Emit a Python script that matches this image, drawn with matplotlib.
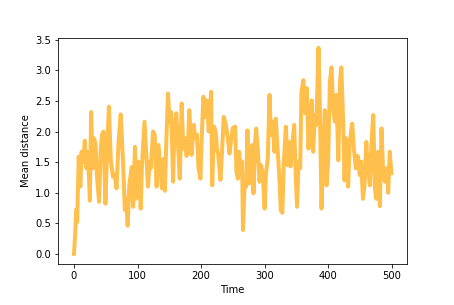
import matplotlib
matplotlib.use("Agg")
import matplotlib.pyplot as plt

# values (time step, mean distance)
time = [0, 2, 3.5, 5, 7.5, 10, 12, 14.5, 17, 19.5, 22, 25, 27, 29.5, 31.5, 34, 36, 39.5,
        42, 44, 46.5, 49.5, 52, 55, 58, 61.5, 64, 67, 70, 73.5, 77, 80, 82, 84.5, 87, 91,
        93, 96, 98, 101, 103, 105, 107, 111, 113.5, 116.5, 119, 121, 124.5, 127, 130, 133,
        136, 138.5, 141, 143, 145, 148, 150.5, 153, 156, 158, 161, 163.5, 166.5, 169.5,
        172, 174.5, 177, 179, 181.5, 185, 188.5, 190.5, 193.5, 196, 199, 201, 203.7, 207,
        209.5, 212, 214, 215.8, 217.5, 220.5, 223, 225, 227, 230.5, 233, 235.7, 239, 242,
        244.7, 247, 250, 253.6, 255.7, 258, 260, 262, 264.5, 266, 268.5, 271, 273, 275.6,
        278, 280.5, 282.5, 285, 286.7, 289.5, 292, 294.5, 297, 300, 302, 305, 307.7, 310,
        313, 315.5, 317.6, 320, 323, 325.5, 328, 330, 333.5, 336, 338.6, 341, 344, 346.5,
        349, 351, 353.5, 356, 358, 361, 364, 366.5, 369, 372, 374.3, 376.5, 379, 381.5,
        384.8, 387, 389.6, 392, 394.8, 397.5, 400, 402.7, 405.3, 408, 410.6, 413, 416,
        418.6, 420.8, 423.5, 425.8, 428, 431.5, 434, 437.8, 440.5, 443.6, 446.5, 449.7,
        452, 454.8, 457.3, 460, 462.6, 465.7, 468.9, 471, 473.5, 476, 478.7, 481.4, 484,
        486.7, 489.4, 492, 494.5, 497, 499.5]
mean_distance = [0.0, 0.35, 0.72, 0.52, 1.59, 1.10, 1.67, 1.5, 1.85, 1.40, 1.67, 0.87, 2.32,
                 1.40, 1.89, 1.80, 1.29, 0.85, 1.67, 1.95, 2.00, 0.82, 1.67, 2.41, 1.51, 1.26,
                 1.30, 1.07, 1.80, 2.28, 1.55, 0.72, 0.90, 0.46, 1.12, 1.42, 0.77, 1.75, 0.90,
                 1.51, 1.40, 0.74, 1.45, 2.16, 1.67, 1.10, 1.51, 1.40, 2.00, 1.95, 1.10, 1.78,
                 1.40, 1.07, 1.55, 1.03, 1.73, 2.62, 2.16, 2.32, 1.18, 2.05, 2.30, 1.83, 1.23,
                 2.46, 1.72, 1.89, 1.60, 1.67, 2.35, 1.62, 2.11, 1.89, 1.95, 1.40, 1.23, 1.89,
                 2.57, 2.24, 2.51, 2.00, 2.27, 2.65, 1.12, 2.08, 2.00, 1.72, 1.62, 1.21, 1.67,
                 2.24, 2.11, 1.90, 1.64, 1.83, 2.06, 2.08, 1.34, 1.23, 1.67, 1.29, 1.51, 0.39,
                 1.12, 1.10, 2.02, 1.15, 1.72, 1.78, 0.99, 1.83, 2.05, 1.67, 1.18, 1.45, 1.32,
                 0.74, 1.29, 1.56, 2.60, 1.94, 2.16, 1.67, 2.21, 1.78, 1.29, 0.71, 0.67, 1.45,
                 2.08, 1.45, 1.83, 1.43, 1.83, 2.11, 1.29, 0.77, 1.51, 1.40, 2.65, 2.84, 2.30,
                 2.71, 1.72, 2.21, 2.51, 1.67, 2.27, 2.11, 3.37, 2.35, 0.74, 1.67, 2.35, 1.12,
                 1.51, 2.81, 3.05, 2.35, 2.16, 2.60, 1.53, 2.81, 3.05, 2.20, 1.20, 1.89, 1.10,
                 1.83, 2.13, 1.72, 1.40, 1.60, 1.29, 1.51, 0.90, 1.12, 1.83, 1.40, 1.12, 1.95,
                 2.27, 1.07, 0.90, 1.67, 0.78, 2.05, 1.29, 1.18, 1.40, 1.00, 1.67, 1.32]

fig = plt.figure(figsize=(454 / 72, 305 / 72), dpi=72)
ax = fig.add_axes([0.128, 0.134, 0.769, 0.743])

ax.plot(time, mean_distance, color='orange', alpha=0.7, linewidth=4)

ax.set_xlabel("Time")
ax.set_ylabel("Mean distance")

fig.savefig("out.png", dpi=72)
